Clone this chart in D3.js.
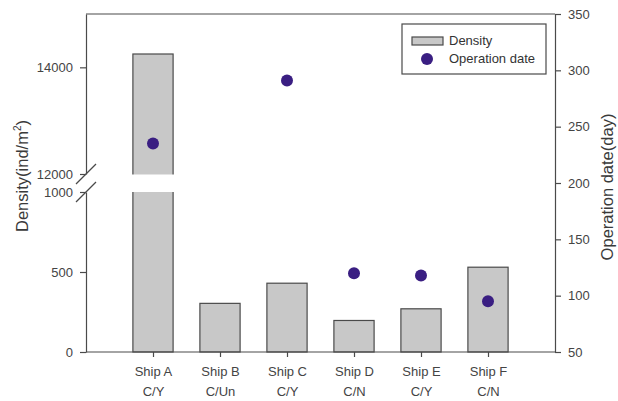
<!DOCTYPE html>
<html>
<head>
<meta charset="utf-8">
<script src="https://cdn.jsdelivr.net/npm/d3@7"></script>
<style>
  html, body { margin: 0; padding: 0; background: #fff; }
  svg text { font-family: "Liberation Sans", Arial, sans-serif; }
</style>
</head>
<body>
<svg id="chart" width="618" height="401"></svg>
<script>
// ---- data ----
const ships = ["Ship A", "Ship B", "Ship C", "Ship D", "Ship E", "Ship F"];
const types = ["C/Y", "C/Un", "C/Y", "C/N", "C/Y", "C/N"];
const density = [14250, 304, 430, 197, 270, 530];
const operationDate = [235, null, 291, 120, 118, 95];
const densityLowTicks = [0, 500, 1000];
const densityHighTicks = [12000, 14000];
const dateTicks = [50, 100, 150, 200, 250, 300, 350];

// ---- layout ----
const L = 86, R = 555, T = 14, B = 352;
const breakTop = 174, breakBottom = 192;
const axisColor = "#4a4a4a", textColor = "#444";
const barFill = "#c8c8c8", dotColor = "#3a1e82";

const svg = d3.select("#chart");

const x = d3.scalePoint().domain(ships).range([L, R]).padding(1);
const step = x.step();
const barW = step * 0.6;
const yLow = d3.scaleLinear().domain([0, 1000]).range([B, breakBottom]);
const yHigh = d3.scaleLinear().domain([12000, 15000]).range([breakTop, T]);
const yR = d3.scaleLinear().domain([50, 350]).range([B, T]);

function yD(v) { return v <= 1000 ? yLow(v) : yHigh(v); }

// bars
const bars = svg.append("g");
ships.forEach((s, i) => {
  const v = density[i];
  const x0 = x(s) - barW / 2;
  bars.append("rect")
    .attr("x", x0).attr("y", yD(v))
    .attr("width", barW).attr("height", B - yD(v))
    .attr("fill", barFill).attr("stroke", axisColor).attr("stroke-width", 1.2);
  if (v > 1000) {
    bars.append("rect")
      .attr("x", x0 - 2).attr("y", breakTop + 0.5)
      .attr("width", barW + 4).attr("height", breakBottom - breakTop - 0.5)
      .attr("fill", "#fff");
  }
});

// dots
svg.append("g").selectAll("circle")
  .data(ships.map((s, i) => ({ s, v: operationDate[i] })).filter(d => d.v != null))
  .join("circle")
  .attr("cx", d => x(d.s)).attr("cy", d => yR(d.v)).attr("r", 6)
  .attr("fill", dotColor);

function styleAxis(g) {
  g.selectAll(".domain").attr("stroke", axisColor).attr("stroke-width", 1.2);
  g.selectAll(".tick line").attr("stroke", axisColor).attr("stroke-width", 1.2);
  g.selectAll(".tick text").attr("fill", textColor)
    .style("font-size", "13px").style("font-family", '"Liberation Sans", Arial, sans-serif');
}

const fmt = d3.format("d");

// left axes (broken)
const gLow = svg.append("g").attr("transform", `translate(${L},0)`)
  .call(d3.axisLeft(yLow).tickValues(densityLowTicks).tickFormat(fmt).tickSize(6).tickSizeOuter(0).tickPadding(7));
styleAxis(gLow);
const gHigh = svg.append("g").attr("transform", `translate(${L},0)`)
  .call(d3.axisLeft(yHigh).tickValues(densityHighTicks).tickFormat(fmt).tickSize(6).tickSizeOuter(0).tickPadding(7));
styleAxis(gHigh);

// break marks
[breakTop, breakBottom].forEach(yy => {
  svg.append("line")
    .attr("x1", L - 10).attr("y1", yy + 10).attr("x2", L + 10).attr("y2", yy - 10)
    .attr("stroke", axisColor).attr("stroke-width", 1.2);
});

// top frame
svg.append("line").attr("x1", L).attr("x2", R).attr("y1", T).attr("y2", T)
  .attr("stroke", axisColor).attr("stroke-width", 1.2);

// right axis
const gR = svg.append("g").attr("transform", `translate(${R},0)`)
  .call(d3.axisRight(yR).tickValues(dateTicks).tickFormat(fmt).tickSize(6).tickSizeOuter(0).tickPadding(7));
styleAxis(gR);

// bottom axis
const gX = svg.append("g").attr("transform", `translate(0,${B})`)
  .call(d3.axisBottom(x).tickSize(5).tickSizeOuter(0).tickFormat(() => ""));
gX.select(".domain").attr("d", `M${L},0H${R}`);
styleAxis(gX);
gX.selectAll(".tick").each(function(d) {
  const t = d3.select(this).append("text")
    .attr("text-anchor", "middle").attr("fill", textColor)
    .style("font-size", "13px");
  t.append("tspan").attr("x", 0).attr("y", 24).text(d);
  t.append("tspan").attr("x", 0).attr("y", 44).text(types[ships.indexOf(d)]);
});

// axis titles
const lt = svg.append("text")
  .attr("transform", "translate(28,176) rotate(-90)")
  .attr("text-anchor", "middle").attr("fill", "#3a3a3a").style("font-size", "16.5px");
lt.append("tspan").text("Density(ind/m");
lt.append("tspan").attr("dy", -7).style("font-size", "10px").text("2");
lt.append("tspan").attr("dy", 7).text(")");

svg.append("text")
  .attr("transform", "translate(613,187) rotate(-90)")
  .attr("text-anchor", "middle").attr("fill", "#3a3a3a").style("font-size", "16.5px")
  .text("Operation date(day)");

// legend
const lg = svg.append("g");
lg.append("rect").attr("x", 402).attr("y", 24).attr("width", 144).attr("height", 50)
  .attr("fill", "#fff").attr("stroke", axisColor).attr("stroke-width", 1.2);
lg.append("rect").attr("x", 412).attr("y", 37).attr("width", 31).attr("height", 8)
  .attr("fill", barFill).attr("stroke", axisColor).attr("stroke-width", 1.2);
lg.append("text").attr("x", 449).attr("y", 45).attr("fill", "#333")
  .style("font-size", "13px").text("Density");
lg.append("circle").attr("cx", 427).attr("cy", 59).attr("r", 6).attr("fill", dotColor);
lg.append("text").attr("x", 449).attr("y", 63).attr("fill", "#333")
  .style("font-size", "13px").text("Operation date");
</script>
</body>
</html>
